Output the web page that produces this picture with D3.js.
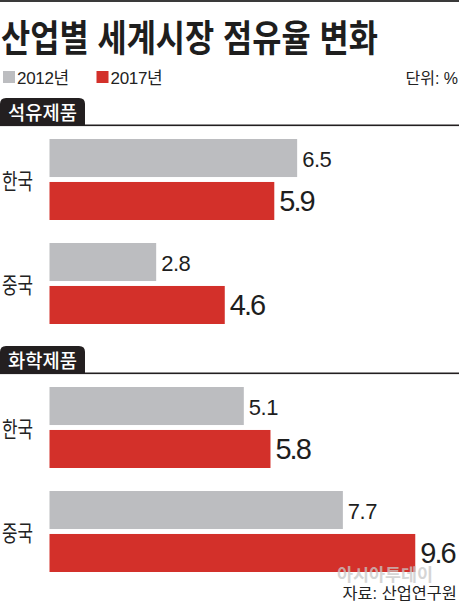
<!DOCTYPE html>
<html>
<head>
<meta charset="utf-8">
<script src="https://cdn.jsdelivr.net/npm/d3@7"></script>
<style>
  body { margin: 0; background: #fff; }
  svg { display: block; }
  text { font-family: "Liberation Sans", "Noto Sans CJK KR", sans-serif; }
</style>
</head>
<body>
<div id="chart"></div>
<script>
// data
var sections = ["석유제품", "화학제품"];
var countries = ["한국", "중국"];
var years = ["2012년", "2017년"];
var petro2012 = [6.5, 2.8];
var petro2017 = [5.9, 4.6];
var chem2012 = [5.1, 7.7];
var chem2017 = [5.8, 9.6];

var width = 459, height = 604;
var colours = ["#bcbdc0", "#d3302a"];
var sectionTop = [98, 346];

var svg = d3.select("#chart").append("svg")
  .attr("width", width)
  .attr("height", height);

// squeeze text horizontally so it fills the given width (condensed newspaper font)
function fitText(sel, x, y, w) {
  var natural = sel.node().getComputedTextLength();
  var k = w / natural;
  sel.attr("x", null).attr("y", null)
    .attr("transform", "translate(" + x + "," + y + ") scale(" + k + ",1)");
}

svg.append("rect").attr("x", 0).attr("y", 0).attr("width", width).attr("height", 2).attr("fill", "#3a3a3a");

var title = svg.append("text")
  .attr("font-family", "'Noto Sans CJK KR'")
  .attr("font-weight", "bold")
  .attr("font-size", 37)
  .attr("fill", "#1e1e1e")
  .text("산업별 세계시장 점유율 변화");
fitText(title, 1, 52, 377);

// legend
var legend = svg.append("g").attr("class", "legend");
var lx = [3, 96.5];
years.forEach(function(yr, i) {
  legend.append("rect").attr("x", lx[i]).attr("y", 71).attr("width", 12).attr("height", 12).attr("fill", colours[i]);
  legend.append("text").attr("x", lx[i] + 14).attr("y", 84)
    .attr("font-size", 17).attr("fill", "#222").attr("letter-spacing", -0.3)
    .text(yr);
});
svg.append("text").attr("x", 458).attr("y", 84).attr("text-anchor", "end")
  .attr("font-size", 16).attr("fill", "#222").text("단위: %");

var x = d3.scaleLinear().domain([0, 10]).range([49.5, 430.5]);
var y0 = d3.scaleBand().domain(countries).range([0, 185]).paddingInner(23 / 104);
var y1 = d3.scaleBand().domain(years).range([0, y0.bandwidth()]).paddingInner(0.115);

var sectionData = [[petro2012, petro2017], [chem2012, chem2017]];

sections.forEach(function(name, s) {
  var top = sectionTop[s];
  var g = svg.append("g").attr("transform", "translate(0," + top + ")");

  g.append("path")
    .attr("d", "M0,28 L0,6 Q0,0 6,0 L79,0 Q85,0 85,6 L85,28 Z")
    .attr("fill", "#231f20");
  g.append("rect").attr("x", 0).attr("y", 26.5).attr("width", width).attr("height", 1.6).attr("fill", "#231f20");
  var tab = g.append("text")
    .attr("font-family", "'Noto Sans CJK KR'")
    .attr("font-weight", 500)
    .attr("font-size", 19).attr("fill", "#fff").text(name);
  fitText(tab, 8, 22, 69);

  var bars = g.append("g").attr("transform", "translate(0,41)");

  countries.forEach(function(c, ci) {
    var grp = bars.append("g").attr("transform", "translate(0," + y0(c) + ")");
    var lab = grp.append("text")
      .attr("font-family", "'Noto Sans CJK KR'")
      .attr("font-size", 22).attr("fill", "#222").text(c);
    fitText(lab, 2, y0.bandwidth() / 2 + 9, 31);

    var vals = years.map(function(yr, yi) { return { yr: yr, yi: yi, v: sectionData[s][yi][ci] }; });

    grp.selectAll("rect.bar").data(vals).enter().append("rect")
      .attr("class", "bar")
      .attr("x", x(0))
      .attr("y", function(d) { return y1(d.yr); })
      .attr("width", function(d) { return x(d.v) - x(0); })
      .attr("height", y1.bandwidth())
      .attr("fill", function(d) { return colours[d.yi]; });

    grp.selectAll("text.val").data(vals).enter().append("text")
      .attr("class", "val")
      .attr("x", function(d) { return x(d.v) + 5; })
      .attr("y", function(d) { return y1(d.yr) + y1.bandwidth() - (d.yi ? 9.3 : 10); })
      .attr("font-size", function(d) { return d.yi ? 29 : 22; })
      .attr("letter-spacing", function(d) { return d.yi ? -2 : -0.5; })
      .attr("fill", "#1e1e1e")
      .text(function(d) { return d3.format(".1f")(d.v); });
  });
});

// watermark + source
var wm = svg.append("text")
  .attr("font-family", "'Noto Sans CJK KR'")
  .attr("font-weight", "bold")
  .attr("font-size", 17).attr("fill", "#c8c8c8").attr("opacity", 0.75)
  .text("아시아투데이");
fitText(wm, 337, 581, 96);

var src = svg.append("text")
  .attr("font-family", "'Noto Sans CJK KR'")
  .attr("font-size", 16).attr("fill", "#222").text("자료: 산업연구원");
fitText(src, 342.5, 599, 114.5);
</script>
</body>
</html>
